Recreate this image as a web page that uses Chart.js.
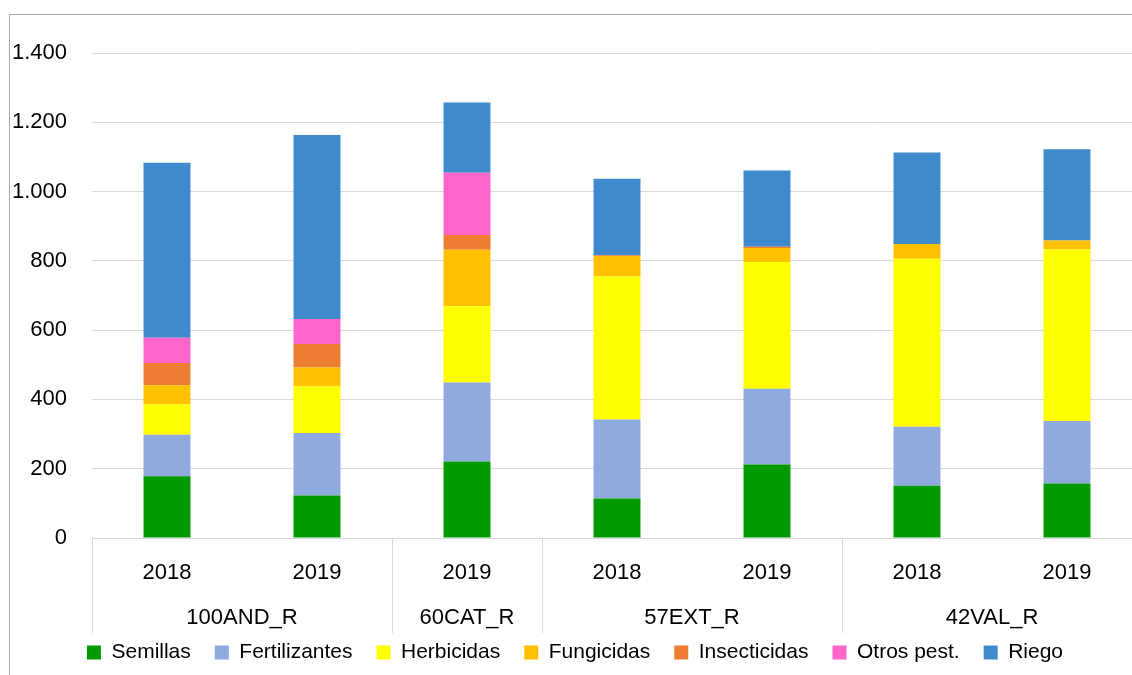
<!DOCTYPE html>
<html><head><meta charset="utf-8">
<script src="https://cdn.jsdelivr.net/npm/chart.js@4"></script>
<style>html,body{margin:0;padding:0;background:#fff;overflow:hidden;width:1132px;height:675px}
#wrap{position:relative;width:1150px;height:675px}</style></head>
<body><div id="wrap"><canvas id="c"></canvas></div>
<script>
const years = ['2018','2019','2019','2018','2019','2018','2019'];
const groups = ['100AND_R','60CAT_R','57EXT_R','42VAL_R'];
const groupSizes = [2,1,2,2];
const yTicks = [0,200,400,600,800,1000,1200,1400];

const semillas     = [178,123,221,114,212,151,157];
const fertilizantes= [120,180,228,228,219,170,181];
const herbicidas   = [ 88,134,220,413,366,485,495];
const fungicidas   = [ 55, 55,163, 59, 40, 43, 26];
const insecticidas = [ 64, 68, 43,  2,  4,  0,  0];
const otrosPest    = [ 73, 72,179,  0,  0,  0,  0];
const riego        = [505,531,203,221,220,264,263];

const FONT = "'Liberation Sans', Arial, sans-serif";
const fmt = v => String(v).replace(/\B(?=(\d{3})+(?!\d))/g, '.');

const framePlugin = { id:'frame', beforeDraw(chart){
  const ctx = chart.ctx; ctx.save();
  ctx.strokeStyle = '#a6a6a6'; ctx.lineWidth = 1;
  ctx.beginPath(); ctx.moveTo(9.5, 675); ctx.lineTo(9.5, 14.5); ctx.lineTo(1150, 14.5); ctx.stroke();
  ctx.restore();
}};

const groupPlugin = { id:'groups', afterDraw(chart){
  const xs = chart.scales.x, ca = chart.chartArea, ctx = chart.ctx;
  const px = i => xs.getPixelForValue(i);
  const step = px(1) - px(0);
  ctx.save();
  ctx.strokeStyle = '#d9d9d9'; ctx.lineWidth = 1;
  let start = 0;
  const bounds = [px(0) - step/2];
  groups.forEach((g, gi) => {
    const end = start + groupSizes[gi] - 1;
    bounds.push(px(end) + step/2);
    const cx = (px(start) + px(end)) / 2;
    ctx.fillStyle = '#000'; ctx.font = '22px ' + FONT;
    ctx.textAlign = 'center'; ctx.textBaseline = 'middle';
    ctx.fillText(g, cx, ca.bottom + 80);
    start = end + 1;
  });
  bounds.forEach(b => {
    const xx = Math.round(b) + 0.5;
    ctx.beginPath(); ctx.moveTo(xx, ca.bottom); ctx.lineTo(xx, ca.bottom + 95); ctx.stroke();
  });
  ctx.restore();
}};

const mk = (label, data, color) => ({label, data, backgroundColor:color, borderWidth:0, barPercentage:0.313, categoryPercentage:1});

new Chart(document.getElementById('c'), {
  type:'bar',
  data:{ labels:years, datasets:[
    mk('Semillas', semillas, '#009900'),
    mk('Fertilizantes', fertilizantes, '#8FAADC'),
    mk('Herbicidas', herbicidas, '#FFFF00'),
    mk('Fungicidas', fungicidas, '#FFC000'),
    mk('Insecticidas', insecticidas, '#ED7D31'),
    mk('Otros pest.', otrosPest, '#FF66CC'),
    mk('Riego', riego, '#3F89CD')
  ]},
  options:{
    responsive:true, maintainAspectRatio:false, animation:false,
    layout:{padding:{left:8,right:8,top:53,bottom:2}},
    plugins:{
      legend:{position:'bottom', labels:{boxWidth:14, boxHeight:14, padding:24, color:'#000', font:{family:FONT,size:21}}},
      tooltip:{enabled:false}
    },
    scales:{
      x:{stacked:true, grid:{display:false}, border:{display:true,color:'#d9d9d9'},
         ticks:{color:'#000', font:{family:FONT,size:22}, padding:14, maxRotation:0, autoSkip:false},
         afterFit(s){ s.height = 80; }},
      y:{stacked:true, min:0, max:1400, afterBuildTicks(s){ s.ticks = yTicks.map(v=>({value:v})); },
         ticks:{padding:25, color:'#000', font:{family:FONT,size:22}, callback:v=>fmt(v)},
         grid:{color:'#d9d9d9', drawTicks:false}, border:{display:false},
         afterFit(s){ s.width = 84; }}
    }
  },
  plugins:[framePlugin, groupPlugin]
});
</script></body></html>
